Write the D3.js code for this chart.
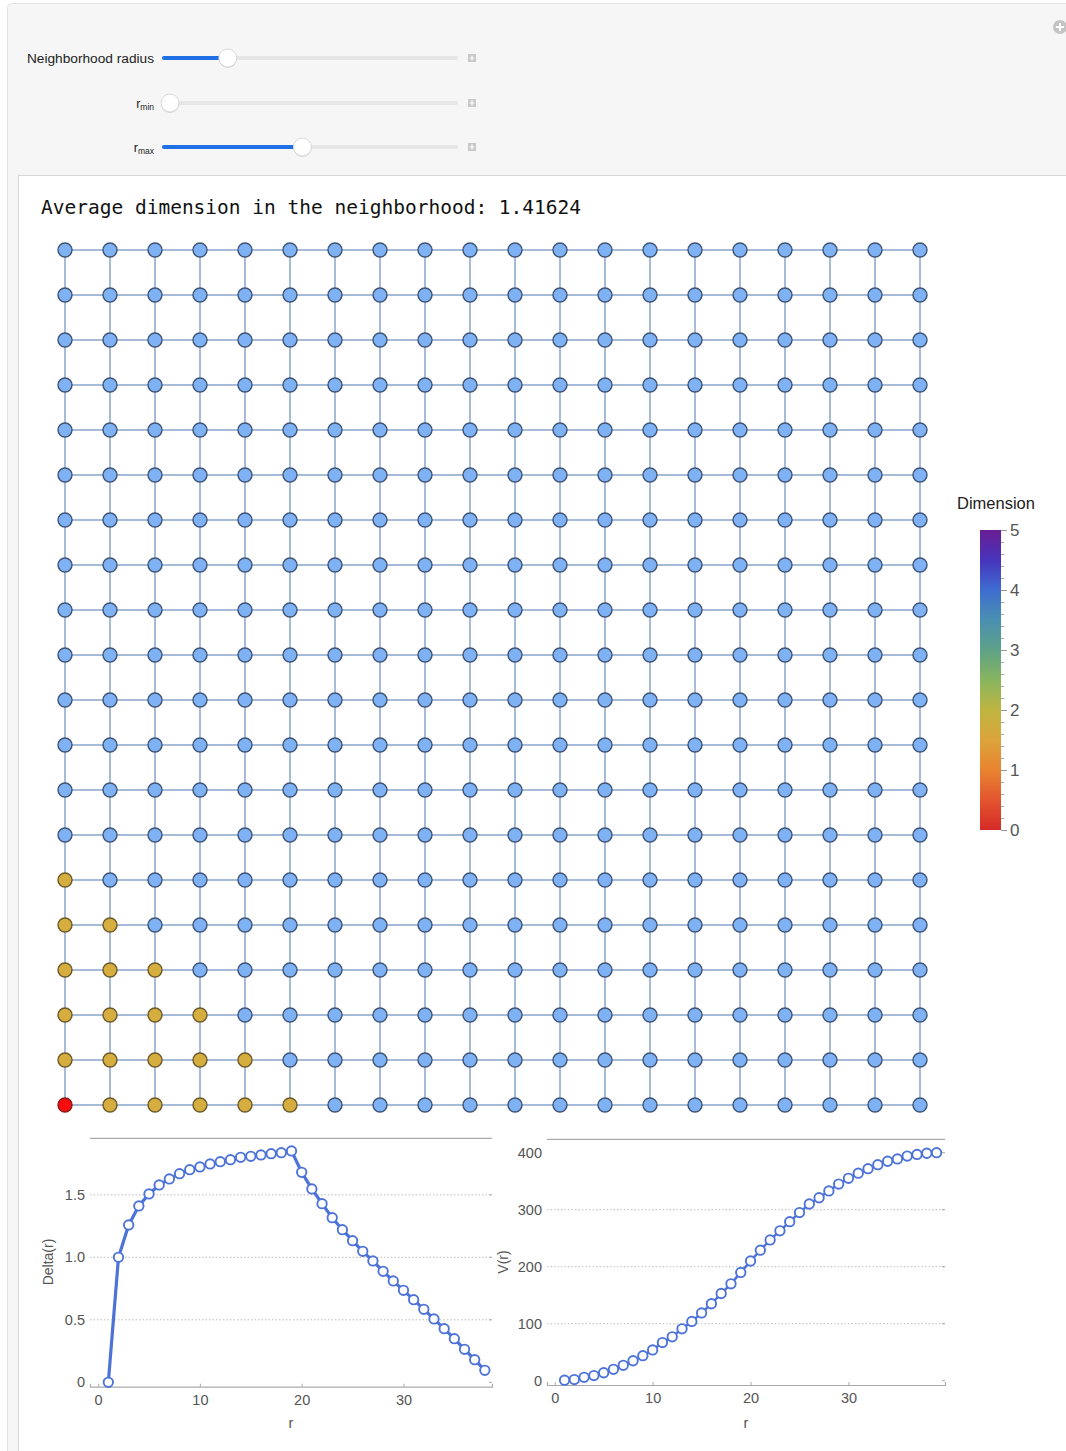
<!DOCTYPE html>
<html lang="en">
<head>
<meta charset="UTF-8">
<title>Neighborhood dimension</title>
<script src="https://d3js.org/d3.v7.min.js"></script>
<style>
  body { margin: 0; background: #fff; }
  svg text { font-family: "Liberation Sans", Arial, sans-serif; }
  .mono { font-family: "DejaVu Sans Mono", monospace; }
  .tick text { fill: #555; }
</style>
</head>
<body>
<div id="chart"></div>
<script>
// --- data ---
const gridSize = 20;
const neighborhoodRadius = 5;
const avgDimension = 1.41624;

const sliderLabels = ["Neighborhood radius", "r", "r"];
const sliderSubs = ["", "min", "max"];
const sliderDomains = [[1, 19], [1, 79], [1, 79]];
const sliderValues = [5, 1, 38];

const dimTicks = [0, 1, 2, 3, 4, 5];
const dimStops = [0, 0.5, 1, 1.5, 2, 2.5, 3, 3.5, 4, 4.5, 5];
const dimColors = ["#d62a28", "#e2552e", "#e98431", "#dca43a", "#bfb541", "#88b55e",
                   "#5ea288", "#4a90b1", "#3e6dd0", "#4734bd", "#6a1d93"];

const deltaR = [1, 2, 3, 4, 5, 6, 7, 8, 9, 10, 11, 12, 13, 14, 15, 16, 17, 18, 19,
                20, 21, 22, 23, 24, 25, 26, 27, 28, 29, 30, 31, 32, 33, 34, 35, 36, 37, 38];
const deltaValues = [0, 1.0, 1.259, 1.411, 1.507, 1.579, 1.627, 1.669, 1.701, 1.723,
                     1.747, 1.765, 1.781, 1.8, 1.808, 1.819, 1.829, 1.837, 1.851, 1.68,
                     1.547, 1.429, 1.317, 1.221, 1.133, 1.048, 0.971, 0.888, 0.811, 0.736,
                     0.661, 0.584, 0.507, 0.429, 0.349, 0.264, 0.181, 0.096];
const deltaTicks = [0, 0.5, 1.0, 1.5];
const deltaTickLabels = ["0", "0.5", "1.0", "1.5"];

const volumeR = [1, 2, 3, 4, 5, 6, 7, 8, 9, 10, 11, 12, 13, 14, 15, 16, 17, 18, 19, 20,
                 21, 22, 23, 24, 25, 26, 27, 28, 29, 30, 31, 32, 33, 34, 35, 36, 37, 38, 39];
const volumeValues = [1, 2, 6, 9, 14, 20, 27, 35, 44, 54, 67, 77, 91, 104, 119, 135, 153,
                      170, 190, 210, 229, 247, 263, 279, 295, 310, 321, 333, 345, 355, 364,
                      372, 379, 385, 389, 394, 397, 399, 400];
const volumeTicks = [0, 100, 200, 300, 400];
const rTicks = [0, 10, 20, 30];

const W = 1066, H = 1451;
const svg = d3.select("#chart").append("svg")
    .attr("width", W)
    .attr("height", H);

// panels
svg.append("rect")
    .attr("x", 7.5).attr("y", 3.5).attr("width", 1080).attr("height", 1470)
    .attr("rx", 4)
    .attr("fill", "#f6f6f6").attr("stroke", "#e3e3e3");
svg.append("rect")
    .attr("x", 18.5).attr("y", 175.5).attr("width", 1070).attr("height", 1300)
    .attr("fill", "#fff").attr("stroke", "#d6d6d6");

// plus icon top right
const plus = svg.append("g").attr("transform", "translate(1060,27)");
plus.append("circle").attr("r", 7).attr("fill", "#c4c4c4");
plus.append("path").attr("d", "M-4,0H4M0,-4V4").attr("stroke", "#fff").attr("stroke-width", 2);

// sliders
const trackX = d3.scaleLinear().domain([0, 1]).range([162, 458]);
const sliderY = [58, 103, 147];
sliderValues.forEach((v, i) => {
    const s = d3.scaleLinear().domain(sliderDomains[i]).range(trackX.range());
    const g = svg.append("g");
    const cy = sliderY[i];
    g.append("rect")
        .attr("x", trackX(0)).attr("y", cy - 2).attr("width", trackX(1) - trackX(0))
        .attr("height", 4).attr("rx", 2).attr("fill", "#e6e6e6");
    if (s(v) > trackX(0) + 1) {
        g.append("rect")
            .attr("x", trackX(0)).attr("y", cy - 2).attr("width", s(v) - trackX(0))
            .attr("height", 4).attr("rx", 2).attr("fill", "#1f6fe5");
    }
    const tx = Math.max(s(v), trackX(0) + 8);
    g.append("circle").attr("cx", tx).attr("cy", cy + 1).attr("r", 9).attr("fill", "#d8d8d8");
    g.append("circle").attr("cx", tx).attr("cy", cy).attr("r", 9)
        .attr("fill", "#fff").attr("stroke", "#d0d0d0").attr("stroke-width", 0.8);
    g.append("rect").attr("x", 468).attr("y", cy - 4).attr("width", 8).attr("height", 8)
        .attr("fill", "#c9c9c9");
    g.append("path").attr("d", `M469.5,${cy}H474.5M472,${cy - 2.5}V${cy + 2.5}`)
        .attr("stroke", "#fff").attr("stroke-width", 1.2);
    const t = g.append("text")
        .attr("x", 154).attr("y", cy + 4.5)
        .attr("text-anchor", "end")
        .attr("font-size", sliderSubs[i] ? 12.5 : 13.7)
        .attr("fill", "#222");
    if (sliderSubs[i]) {
        t.append("tspan").text(sliderLabels[i]);
        t.append("tspan").attr("font-size", 8.5).attr("dy", 2.5).text(sliderSubs[i]);
    } else {
        t.text(sliderLabels[i]);
    }
});

// title
svg.append("text")
    .attr("class", "mono")
    .attr("x", 41).attr("y", 214)
    .attr("font-size", 19.5)
    .attr("fill", "#111")
    .text(`Average dimension in the neighborhood: ${avgDimension}`);

// grid graph
const gx = d3.scaleLinear().domain([0, gridSize - 1]).range([65, 920]);
const gy = d3.scaleLinear().domain([0, gridSize - 1]).range([1105, 250]);
const nodes = [];
for (let i = 0; i < gridSize; i++)
    for (let j = 0; j < gridSize; j++) nodes.push({ i, j });
const edges = [];
nodes.forEach(n => {
    if (n.i < gridSize - 1) edges.push([n, { i: n.i + 1, j: n.j }]);
    if (n.j < gridSize - 1) edges.push([n, { i: n.i, j: n.j + 1 }]);
});
const graph = svg.append("g");
graph.selectAll("line")
    .data(edges)
    .join("line")
    .attr("x1", d => gx(d[0].i)).attr("y1", d => gy(d[0].j))
    .attr("x2", d => gx(d[1].i)).attr("y2", d => gy(d[1].j))
    .attr("stroke", "#a6bbd8").attr("stroke-width", 2);

function nodeFill(d) {
    const dist = d.i + d.j;
    if (dist === 0) return "#f70d0d";
    if (dist <= neighborhoodRadius) return "#d6ae3f";
    return "#7fb2f5";
}
function nodeStroke(d) {
    const dist = d.i + d.j;
    if (dist === 0) return "#8a1a1a";
    if (dist <= neighborhoodRadius) return "#6b5a2c";
    return "#3f5474";
}
graph.selectAll("circle")
    .data(nodes)
    .join("circle")
    .attr("cx", d => gx(d.i)).attr("cy", d => gy(d.j))
    .attr("r", 7)
    .attr("fill", nodeFill)
    .attr("stroke", nodeStroke)
    .attr("stroke-width", 1.4);

// colour bar legend
const dimScale = d3.scaleLinear().domain([0, 5]).range([830, 530]);
const defs = svg.append("defs");
const grad = defs.append("linearGradient")
    .attr("id", "dimgrad")
    .attr("x1", 0).attr("y1", 1).attr("x2", 0).attr("y2", 0);
grad.selectAll("stop")
    .data(dimStops)
    .join("stop")
    .attr("offset", d => d / 5)
    .attr("stop-color", (d, i) => dimColors[i]);
svg.append("rect")
    .attr("x", 980).attr("y", dimScale(5)).attr("width", 21)
    .attr("height", dimScale(0) - dimScale(5))
    .attr("fill", "url(#dimgrad)");
const minor = svg.append("g")
    .attr("transform", "translate(1001,0)")
    .call(d3.axisRight(dimScale).tickValues(d3.range(0, 5.01, 0.2)).tickSize(3).tickFormat(""));
minor.select(".domain").remove();
minor.selectAll("line").attr("stroke", "#aaa");
const major = svg.append("g")
    .attr("transform", "translate(1001,0)")
    .call(d3.axisRight(dimScale).tickValues(dimTicks).tickSize(6).tickPadding(3)
        .tickFormat(d3.format("d")));
major.select(".domain").remove();
major.selectAll("line").attr("stroke", "#999");
major.selectAll("text").attr("font-size", 17).attr("fill", "#555");
svg.append("text")
    .attr("x", 996).attr("y", 509)
    .attr("text-anchor", "middle")
    .attr("font-size", 16.5)
    .attr("fill", "#222")
    .text("Dimension");

// small plots
function drawPlot(cfg) {
    const x = d3.scaleLinear().domain(cfg.xDomain).range(cfg.xRange);
    const y = d3.scaleLinear().domain(cfg.yDomain).range(cfg.yRange);
    const g = svg.append("g");
    const [x0, x1] = cfg.xRange;

    g.selectAll(".grid")
        .data(cfg.grid)
        .join("line")
        .attr("x1", x0).attr("x2", x1)
        .attr("y1", d => y(d)).attr("y2", d => y(d))
        .attr("stroke", "#bbb").attr("stroke-width", 1)
        .attr("stroke-dasharray", "1.5,2");

    g.append("line").attr("x1", x0).attr("x2", x1)
        .attr("y1", cfg.yRange[1]).attr("y2", cfg.yRange[1])
        .attr("stroke", "#aaa").attr("stroke-width", 1.2);

    const xa = g.append("g")
        .attr("transform", `translate(0,${cfg.yRange[0]})`)
        .call(d3.axisBottom(x).tickValues(rTicks).tickSize(-3).tickPadding(8));
    xa.select(".domain").attr("stroke", "#aaa").attr("stroke-width", 1.2);
    xa.selectAll("line").attr("stroke", "#aaa");
    xa.selectAll("text").attr("font-size", 14.5).attr("fill", "#555");

    const ya = g.append("g")
        .attr("transform", `translate(${x0},0)`)
        .call(d3.axisLeft(y).tickValues(cfg.yTicks).tickSize(0).tickPadding(5)
            .tickFormat((d, i) => cfg.yTickLabels[i]));
    ya.select(".domain").remove();
    ya.selectAll("text").attr("font-size", 14.5).attr("fill", "#555");

    g.selectAll(".rtick")
        .data(cfg.yTicks)
        .join("line")
        .attr("x1", x1 - 3).attr("x2", x1)
        .attr("y1", d => y(d)).attr("y2", d => y(d))
        .attr("stroke", "#aaa");

    g.append("text")
        .attr("x", (x0 + x1) / 2).attr("y", 1428)
        .attr("text-anchor", "middle")
        .attr("font-size", 14.5).attr("fill", "#555")
        .text("r");
    g.append("text")
        .attr("transform", `translate(${cfg.yLabelX},1262) rotate(-90)`)
        .attr("text-anchor", "middle")
        .attr("font-size", 14).attr("fill", "#555")
        .text(cfg.yLabel);

    const pts = cfg.xs.map((r, i) => [r, cfg.ys[i]]);
    g.append("path")
        .datum(pts)
        .attr("fill", "none")
        .attr("stroke", "#4d73d9")
        .attr("stroke-width", cfg.lineWidth)
        .attr("d", d3.line().x(d => x(d[0])).y(d => y(d[1])));
    g.selectAll(".pt")
        .data(pts)
        .join("circle")
        .attr("cx", d => x(d[0])).attr("cy", d => y(d[1]))
        .attr("r", 4.7)
        .attr("fill", "#fff")
        .attr("stroke", "#4d73d9")
        .attr("stroke-width", 1.9);
}

drawPlot({
    xDomain: [-0.8, 38.7], xRange: [90, 492],
    yDomain: [-0.035, 1.952], yRange: [1386.7, 1138.3],
    grid: [0.5, 1.0, 1.5],
    yTicks: deltaTicks, yTickLabels: deltaTickLabels,
    yLabel: "Delta(r)", yLabelX: 53,
    xs: deltaR, ys: deltaValues, lineWidth: 3.2
});
drawPlot({
    xDomain: [-0.79, 39.86], xRange: [547, 945],
    yDomain: [-7.5, 423.5], yRange: [1385, 1139.3],
    grid: [100, 200, 300],
    yTicks: volumeTicks, yTickLabels: volumeTicks.map(String),
    yLabel: "V(r)", yLabelX: 508,
    xs: volumeR, ys: volumeValues, lineWidth: 2.5
});
</script>
</body>
</html>
